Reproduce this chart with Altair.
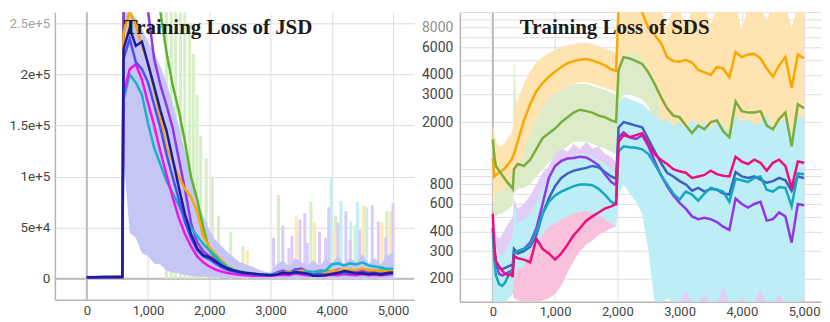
import json
import altair as alt
import pandas as pd

FONT = "Roboto"

# ============================ LEFT PANEL: Training Loss of JSD (values in thousands)
L_TITLE = "Training Loss of JSD"
L_STEPS = [0, 100, 200, 300, 400, 500, 580,
           600, 700, 800, 900, 1000, 1100, 1200, 1300, 1400, 1500,
           1600, 1700, 1800, 1900, 2000, 2100, 2200, 2300, 2400, 2500,
           2600, 2700, 2800, 2900, 3000, 3100, 3200, 3300, 3400, 3500,
           3600, 3700, 3800, 3900, 4000, 4100, 4200, 4300, 4400, 4500,
           4600, 4700, 4800, 4900, 5000]
L_GREEN = [1.5, 1.5, 1.5, 1.6, 1.6, 1.6, 1.7,
           262, 265, 265, 265, 265, 265, 262, 222, 190, 165,
           135, 100, 78, 50, 28, 19, 13, 9.5, 7.5, 6,
           5, 4.5, 4, 3.5, 3.5, 4.5, 6.5, 6, 7, 8,
           6.5, 5.5, 6, 7, 7.5, 8, 7, 8.5, 8, 9,
           8.5, 7.5, 8, 7, 7.5]
L_PURPLE = [1.5, 1.5, 1.5, 1.6, 1.6, 1.6, 1.7,
            262, 265, 265, 265, 262, 215, 190, 170, 148, 118,
            88, 55, 36, 27, 22, 18, 14, 10, 8, 6,
            5, 4.5, 4, 4, 3.5, 6, 8, 6, 9, 10,
            7, 6, 8, 7, 6, 9, 8, 7, 6, 8,
            7, 6, 7, 6, 7]
L_ORANGE = [1.5, 1.5, 1.5, 1.6, 1.6, 1.6, 1.7,
            240, 262, 248, 228, 212, 185, 158, 128, 115, 100,
            88, 80, 66, 42, 31, 24, 18, 12, 9, 7,
            6, 5, 4.5, 4, 3.5, 5, 6, 7, 6, 8,
            7, 6, 7.5, 6, 7, 8, 9, 8, 8.5, 10,
            8, 8.5, 7, 8, 8]
L_CYAN = [1.4, 1.4, 1.4, 1.5, 1.5, 1.5, 1.6,
          175, 200, 192, 180, 152, 128, 112, 96, 84, 72,
          60, 50, 42, 34, 28, 22, 16, 11, 8.5, 7,
          6, 5, 4.5, 4, 4, 5, 6, 5.5, 7, 6,
          7, 6.5, 7, 8, 14, 15, 13, 15, 14, 16,
          13, 12, 11, 9.5, 10]
L_MAGENTA = [1.3, 1.3, 1.4, 1.4, 1.4, 1.5, 1.5,
             180, 205, 210, 195, 172, 150, 125, 102, 80, 60,
             44, 32, 22, 16, 12, 9, 7, 5.5, 4.5, 4,
             3.5, 3, 3, 3, 3, 3.5, 4, 3.5, 5, 4,
             3.5, 3, 4, 3.5, 4, 3.5, 4.5, 4, 3.5, 4.5,
             3.5, 4, 3.5, 4, 4.5]
L_BLUE = [1.4, 1.4, 1.5, 1.5, 1.5, 1.6, 1.6,
          215, 235, 212, 205, 192, 170, 148, 122, 100, 78,
          56, 40, 28, 22, 19, 15, 11, 8.5, 7, 5.5,
          5, 4.5, 4, 3.5, 3.5, 4.5, 6, 5.5, 5, 6,
          4.5, 4, 4.5, 4, 5, 6, 5.5, 5, 6, 4.5,
          5.5, 4.5, 5, 4.5, 5.5]
L_NAVY = [1.5, 1.5, 1.6, 1.6, 1.6, 1.7, 1.8,
          225, 245, 228, 232, 210, 188, 165, 145, 118, 90,
          64, 44, 30, 23, 21, 17, 13, 10, 8, 6.5,
          5.5, 5, 4.5, 4, 3.5, 4, 5.5, 5, 6.5, 5.5,
          5, 3, 3, 3.5, 4.5, 5.5, 7.5, 6.5, 5, 5.5,
          4.5, 5, 4, 5.5, 6]
# raw (unsmoothed) envelope, shown as a light band
L_RAW_LO = [0.3, 0.3, 0.3, 0.3, 0.3, 0.3, 0.3,
            120, 45, 40, 25, 22, 15, 14, 8, 6, 5,
            4, 3, 2, 2, 1.5, 1, 1, 0.8, 0.8, 0.6,
            0.5, 0.5, 0.5, 0.5, 0.5, 0.5, 0.5, 0.5, 0.5, 0.5,
            0.5, 0.5, 0.5, 0.5, 0.5, 0.5, 0.5, 0.5, 0.5, 0.5,
            0.5, 0.5, 0.5, 0.5, 0.5]
L_RAW_HI = [3, 3, 3, 3, 3, 3, 3,
            262, 262, 255, 245, 232, 222, 208, 192, 172, 150,
            125, 102, 75, 62, 48, 38, 32, 26, 21, 16,
            14, 12, 9, 7, 6, 14, 18, 12, 20, 16,
            13, 18, 12, 20, 15, 22, 14, 20, 16, 24,
            15, 20, 14, 22, 26]
# raw spikes
L_SPK_GREEN_STEP = [1300, 1380, 1450, 1530, 1600, 1680, 1740, 1800, 1860, 1950,
                    2050, 2150, 2350, 2550, 3130, 3660, 4060, 4380, 4900]
L_SPK_GREEN_TOP = [265, 265, 265, 265, 265, 250, 220, 180, 140, 118,
                   100, 62, 46, 32, 82, 75, 62, 52, 66]
L_SPK_YELLOW_STEP = [2620, 3420, 3720, 4050, 4520, 4820, 4960]
L_SPK_YELLOW_TOP = [28, 62, 55, 48, 72, 55, 66]
L_SPK_CYAN_STEP = [3990, 4150, 4310, 4420, 4570]
L_SPK_CYAN_TOP = [98, 76, 56, 75, 70]
L_SPK_LAV_STEP = [3050, 3200, 3300, 3350, 3480, 3560, 3600, 3800, 3900, 3950,
                  4100, 4230, 4300, 4460, 4660, 4760, 4880, 5000]
L_SPK_LAV_TOP = [40, 52, 30, 42, 58, 64, 35, 46, 40, 70,
                 55, 66, 38, 48, 72, 56, 40, 74]
L_XTICKS = [0, 1000, 2000, 3000, 4000, 5000]
L_YTICKS = [0, 50, 100, 150, 200, 250]
L_YLABELS = ["0", "5e+4", "1e+5", "1.5e+5", "2e+5", "2.5e+5"]

# ============================ RIGHT PANEL: Training Loss of SDS
R_TITLE = "Training Loss of SDS"
R_STEPS = [0, 25, 50, 100, 150, 200, 250, 300, 320, 340,
           400, 500, 600, 700, 800, 900, 1000, 1100, 1200, 1300,
           1400, 1500, 1600, 1700, 1800, 1900, 1980, 2020, 2100, 2200,
           2300, 2400, 2500, 2600, 2700, 2800, 2900, 3000, 3100, 3200,
           3300, 3400, 3500, 3600, 3700, 3800, 3900, 4000, 4100, 4200,
           4300, 4400, 4500, 4600, 4700, 4800, 4900, 5000]
R_ORANGE = [1180, 900, 920, 950, 980, 1020, 1080, 1150, 1200, 1250,
            1500, 2050, 2600, 3150, 3550, 3900, 4200, 4500, 4750, 4900,
            5000, 5050, 4950, 4800, 4600, 4350, 4250, 11000, 11000, 11000,
            10800, 10000, 8000, 7200, 6400, 5200, 4900, 4850, 5000, 4800,
            4300, 4150, 4000, 4500, 4400, 3850, 5600, 5200, 5400, 5450,
            5100, 4400, 3900, 4600, 5200, 3300, 5400, 5100]
R_GREEN = [1550, 1200, 1050, 980, 920, 860, 810, 770, 750, 1000,
           1080, 1050, 1150, 1350, 1580, 1700, 1820, 2000, 2150, 2300,
           2400, 2350, 2300, 2200, 2150, 2050, 2000, 4300, 5200, 5100,
           4900, 4700, 4150, 3500, 2900, 2450, 2200, 2150, 1900, 1700,
           1900, 1800, 2000, 2050, 1750, 1600, 2700, 2350, 2300, 2300,
           2350, 1900, 1800, 2100, 2300, 1400, 2600, 2450]
R_PURPLE = [420, 300, 250, 215, 210, 215, 220, 225, 230, 290,
            300, 310, 340, 420, 600, 880, 1050, 1130, 1170, 1180,
            1200, 1190, 1130, 1060, 930, 830, 790, 1600, 1720, 1600,
            1560, 1650, 1400, 1130, 920, 780, 680, 610, 560, 500,
            480, 490, 480, 460, 430, 410, 650, 600, 570, 600,
            620, 470, 480, 530, 500, 340, 600, 590]
R_BLUE = [420, 300, 250, 235, 230, 235, 240, 245, 240, 310,
          290, 300, 320, 380, 520, 650, 780, 880, 940, 980,
          1000, 1020, 1050, 1030, 960, 900, 870, 1850, 2000, 1950,
          1900, 1850, 1550, 1300, 1100, 950, 900, 840, 800, 730,
          760, 720, 750, 740, 700, 690, 960, 900, 880, 900,
          860, 820, 840, 880, 850, 730, 900, 880]
R_CYAN = [380, 260, 210, 185, 180, 190, 210, 225, 230, 290,
          300, 310, 330, 400, 520, 620, 680, 720, 750, 780,
          800, 800, 790, 750, 690, 620, 600, 1300, 1400, 1380,
          1370, 1340, 1250, 1080, 920, 800, 700, 640, 720, 690,
          630, 700, 760, 740, 720, 620, 870, 850, 830, 880,
          900, 740, 720, 770, 760, 580, 940, 930]
R_PINK = [520, 320, 260, 240, 225, 215, 210, 215, 205, 280,
          270, 265, 255, 360, 310, 290, 265, 290, 330, 380,
          420, 470, 500, 530, 560, 580, 600, 1500, 1650, 1600,
          1650, 1700, 1450, 1250, 1150, 1080, 1000, 970, 950, 880,
          900, 920, 980, 930, 910, 900, 1200, 1120, 1080, 1150,
          1100, 980, 1100, 1150, 1050, 760, 1120, 1100]
# raw envelopes
R_GREEN_LO = [550, 520, 500, 520, 520, 540, 560, 580, 600, 700,
              750, 760, 800, 900, 1000, 1100, 1200, 1300, 1400, 1500,
              1500, 1500, 1450, 1400, 1350, 1300, 1250, 2500, 3000, 3000,
              2900, 2800, 2500, 2000, 1800, 1500, 1400, 1300, 1200, 1100,
              1200, 1100, 1300, 1200, 1100, 1100, 1400, 1300, 1300, 1200,
              1300, 1100, 1100, 1200, 1300, 1000, 1400, 1300]
R_GREEN_HI = [1900, 1700, 1500, 1300, 1200, 1150, 1200, 1300, 1400, 5300,
              1800, 2000, 2300, 2600, 2800, 3000, 3200, 3300, 3400, 3500,
              3500, 3500, 3400, 3300, 3200, 3100, 3000, 6500, 7500, 7000,
              7000, 6800, 6000, 5000, 4000, 3500, 3000, 3000, 2800, 2600,
              2800, 2700, 2900, 3000, 2700, 2500, 3500, 3200, 3100, 3100,
              3200, 2800, 2700, 3000, 3100, 2400, 3400, 3300]
R_ORANGE_LO = [600, 650, 700, 720, 740, 760, 800, 850, 900, 950,
               1000, 1300, 1700, 2100, 2500, 2800, 3000, 3200, 3400, 3500,
               3600, 3600, 3500, 3400, 3300, 3200, 3100, 3500, 5000, 5500,
               5500, 5000, 4200, 3500, 2200, 1600, 1500, 1400, 1500, 1300,
               1400, 1300, 1500, 1400, 1300, 1200, 1700, 1500, 1600, 1500,
               1500, 1300, 1200, 1400, 1500, 1100, 1600, 1500]
R_ORANGE_HI = [2000, 1700, 1500, 1400, 1400, 1500, 1600, 1700, 1800, 2400,
               2800, 3500, 4200, 4800, 5200, 5500, 5800, 6000, 6200, 6300,
               6400, 6400, 6300, 6100, 5900, 5700, 5500, 11000, 11000, 11000,
               11000, 11000, 11000, 11000, 11000, 8000, 11000, 11000, 7500, 11000,
               11000, 11000, 8500, 11000, 11000, 11000, 11000, 7800, 11000, 11000,
               11000, 9000, 11000, 11000, 11000, 8000, 11000, 11000]
R_LAV_LO = [160, 150, 145, 145, 150, 150, 160, 170, 175, 200,
            200, 210, 230, 280, 350, 420, 500, 550, 600, 600,
            620, 620, 600, 580, 550, 520, 500, 900, 1000, 950,
            900, 850, 700, 300, 140, 200, 140, 140, 140, 140,
            140, 140, 140, 140, 140, 140, 140, 140, 140, 140,
            140, 140, 140, 140, 140, 140, 140, 140]
R_LAV_HI = [450, 400, 380, 360, 380, 420, 450, 480, 500, 650,
            560, 600, 680, 800, 950, 1050, 1250, 1350, 1300, 1450,
            1350, 1500, 1350, 1400, 1250, 1200, 1100, 2400, 2600, 2500,
            2400, 2300, 2000, 1600, 1000, 900, 800, 800, 750, 750,
            700, 750, 800, 700, 750, 800, 750, 700, 800, 750,
            700, 750, 800, 700, 750, 700, 800, 750]
R_PINK_LO = [200, 190, 180, 170, 165, 160, 160, 160, 160, 150,
             145, 142, 140, 140, 145, 150, 160, 180, 220, 260,
             300, 330, 350, 380, 400, 420, 430, 700, 800, 800,
             800, 750, 700, 600, 500, 450, 420, 400, 400, 380,
             380, 380, 380, 380, 380, 380, 380, 380, 380, 380,
             380, 380, 380, 380, 380, 380, 380, 380]
R_PINK_HI = [550, 400, 330, 300, 290, 280, 280, 290, 300, 350,
             350, 380, 430, 500, 480, 460, 450, 520, 580, 620,
             680, 720, 760, 800, 820, 850, 850, 2000, 2100, 2000,
             2000, 1900, 1700, 1400, 1300, 1200, 1100, 1100, 1050, 1000,
             1050, 1100, 1000, 1050, 1100, 1000, 1200, 1100, 1050, 1100,
             1100, 1000, 1050, 1100, 1000, 1000, 1100, 1100]
R_CYAN_LO = [140, 140, 140, 140, 140, 142, 148, 155, 165, 200,
             230, 240, 300, 330, 380, 430, 450, 480, 500, 520,
             540, 540, 530, 510, 480, 450, 430, 700, 800, 700,
             620, 520, 300, 140, 140, 150, 140, 140, 170, 140,
             140, 160, 140, 140, 180, 140, 140, 150, 140, 140,
             170, 140, 140, 160, 140, 140, 140, 150]
R_CYAN_HI = [420, 380, 320, 290, 280, 300, 330, 360, 380, 600,
             450, 480, 520, 620, 760, 880, 1000, 1100, 1150, 1200,
             1250, 1250, 1200, 1150, 1100, 1000, 950, 2600, 2900, 2800,
             2700, 2600, 2400, 2200, 2000, 2100, 1900, 2000, 1800, 2100,
             1900, 2000, 1800, 2100, 1900, 1700, 2200, 2000, 2100, 1900,
             2000, 2200, 1800, 2000, 2100, 1700, 2200, 2100]
R_XTICKS = [0, 1000, 2000, 3000, 4000, 5000]
R_GRID = [200, 300, 400, 500, 600, 700, 800, 900, 1000,
          2000, 3000, 4000, 5000, 6000, 7000, 8000, 9000]
R_TOPGRID = [10000]
R_LABELED = [200, 300, 400, 600, 800, 2000, 3000, 4000, 6000, 8000]

# ============================ styles
LINE_COLORS_L = {"green": "#5cb52a", "purple": "#9236e8", "orange": "#f9a800",
                 "cyan": "#14b4c8", "magenta": "#f014e6", "blue": "#4b52ec",
                 "navy": "#1c1c9c"}
LINE_COLORS_R = {"orange": "#f9a800", "green": "#79ad3c", "purple": "#9334e6",
                 "blue": "#3c62c0", "cyan": "#15a6c2", "pink": "#ec0f7c"}
BAND_COLORS = {"lav_l": "#c6c6f6", "green": "#dcecc9", "orange": "#ffe3b0",
               "lav": "#e1cdf5", "pink": "#f9c1dc", "cyan": "#bdeef5"}
SPIKE_COLORS = {"green": "#d6efc6", "yellow": "#ffe7b0", "cyan": "#c0eff6",
                "lavender": "#dccbf6"}
GRID_COLOR = "#dedede"

L_XS = alt.Scale(domain=[-521, 5342], nice=False, zero=False)
L_YS = alt.Scale(domain=[-20.5, 260.7], nice=False, zero=False)
R_XS = alt.Scale(domain=[-529, 5272], nice=False, zero=False)
R_YS = alt.Scale(type="log", domain=[142.8, 10035], nice=False)

AX = dict(labelFont=FONT, grid=True, gridColor=GRID_COLOR,
          gridWidth=1, domainColor="#b5b5b5", domainWidth=1.5, ticks=False,
          tickSize=0, labelOverlap=False)

L_XAXIS = alt.Axis(values=L_XTICKS, format=",d", labelPadding=5, labelFontSize=13,
                   labelColor="#444444", **AX)
L_YAXIS = alt.Axis(values=L_YTICKS, labelPadding=5, minExtent=45, maxExtent=45,
                   labelFontSize=13.5,
                   labelExpr=f"{json.dumps(L_YLABELS)}[indexof({json.dumps(L_YTICKS)}, datum.value)]",
                   labelColor=alt.ExprRef(expr="datum.value == 250 ? '#a3a3a3' : '#444444'"),
                   **AX)
R_XAXIS = alt.Axis(values=R_XTICKS, format=",d", labelPadding=4, labelFontSize=13,
                   labelColor="#444444", **AX)
R_YAXIS = alt.Axis(values=R_GRID, labelPadding=7, minExtent=40, maxExtent=40,
                   labelFontSize=14,
                   labelExpr=f"indexof({json.dumps(R_LABELED)}, datum.value) >= 0 ? datum.value + '' : ''",
                   labelColor=alt.ExprRef(expr="datum.value == 8000 ? '#8f8f8f' : '#444444'"),
                   **AX)


def xy_df(steps, values):
    return pd.DataFrame({"step": steps, "value": values})


def band_df(steps, lo, hi):
    return pd.DataFrame({"step": steps, "lo": lo, "hi": hi})


def LX(field):
    return alt.X(field, scale=L_XS, axis=L_XAXIS, title=None)


def LY(field):
    return alt.Y(field, scale=L_YS, axis=L_YAXIS, title=None)


def RX(field):
    return alt.X(field, scale=R_XS, axis=R_XAXIS, title=None)


def RY(field):
    return alt.Y(field, scale=R_YS, axis=R_YAXIS, title=None)


# ---------------- left layers
l_layers = []
l_layers.append(alt.Chart(pd.DataFrame({"step": [0], "value": [0]})).mark_rule(
    color="#bcbcbc", strokeWidth=2).encode(x=LX("step:Q")))
l_layers.append(alt.Chart(pd.DataFrame({"step": [0], "value": [0]})).mark_rule(
    color="#bcbcbc", strokeWidth=2).encode(y=LY("value:Q")))
for kind, st, tp in [("green", L_SPK_GREEN_STEP, L_SPK_GREEN_TOP),
                     ("yellow", L_SPK_YELLOW_STEP, L_SPK_YELLOW_TOP),
                     ("cyan", L_SPK_CYAN_STEP, L_SPK_CYAN_TOP),
                     ("lavender", L_SPK_LAV_STEP, L_SPK_LAV_TOP)]:
    d = pd.DataFrame({"step": st, "top": tp, "base": [0] * len(st)})
    l_layers.append(alt.Chart(d).mark_rule(
        color=SPIKE_COLORS[kind], strokeWidth=3, clip=True).encode(
        x=LX("step:Q"), y=LY("base:Q"), y2="top:Q"))
l_layers.append(alt.Chart(band_df(L_STEPS, L_RAW_LO, L_RAW_HI)).mark_area(
    color=BAND_COLORS["lav_l"], clip=True).encode(
    x=LX("step:Q"), y=LY("lo:Q"), y2="hi:Q"))
for name, vals in [("green", L_GREEN), ("purple", L_PURPLE), ("orange", L_ORANGE),
                   ("cyan", L_CYAN), ("magenta", L_MAGENTA), ("blue", L_BLUE),
                   ("navy", L_NAVY)]:
    l_layers.append(alt.Chart(xy_df(L_STEPS, vals)).mark_line(
        color=LINE_COLORS_L[name], strokeWidth=2.5, clip=True).encode(
        x=LX("step:Q"), y=LY("value:Q")))
l_layers.append(alt.Chart(pd.DataFrame({"title": [L_TITLE]})).mark_text(
    align="left", baseline="alphabetic", font="Liberation Serif", fontSize=21,
    fontWeight="bold", color="#1c1c1c").encode(
    x=alt.value(69), y=alt.value(22), text="title:N"))
left = alt.layer(*l_layers).properties(width=360, height=288)

# ---------------- right layers
r_layers = []
r_layers.append(alt.Chart(pd.DataFrame({"step": [0], "value": [1000]})).mark_rule(
    color="#bcbcbc", strokeWidth=2).encode(x=RX("step:Q")))
r_layers.append(alt.Chart(pd.DataFrame({"value": R_TOPGRID})).mark_rule(
    color=GRID_COLOR, strokeWidth=1).encode(y=RY("value:Q")))
for key, lo, hi in [("green", R_GREEN_LO, R_GREEN_HI),
                    ("orange", R_ORANGE_LO, R_ORANGE_HI),
                    ("lav", R_LAV_LO, R_LAV_HI),
                    ("pink", R_PINK_LO, R_PINK_HI),
                    ("cyan", R_CYAN_LO, R_CYAN_HI)]:
    r_layers.append(alt.Chart(band_df(R_STEPS, lo, hi)).mark_area(
        color=BAND_COLORS[key], clip=True).encode(
        x=RX("step:Q"), y=RY("lo:Q"), y2="hi:Q"))
for name, vals in [("orange", R_ORANGE), ("green", R_GREEN), ("purple", R_PURPLE),
                   ("blue", R_BLUE), ("cyan", R_CYAN), ("pink", R_PINK)]:
    r_layers.append(alt.Chart(xy_df(R_STEPS, vals)).mark_line(
        color=LINE_COLORS_R[name], strokeWidth=2.5, clip=True).encode(
        x=RX("step:Q"), y=RY("value:Q")))
r_layers.append(alt.Chart(pd.DataFrame({"title": [R_TITLE]})).mark_text(
    align="left", baseline="alphabetic", font="Liberation Serif", fontSize=21,
    fontWeight="bold", color="#1c1c1c").encode(
    x=alt.value(60), y=alt.value(22), text="title:N"))
right = alt.layer(*r_layers).properties(width=362, height=290)

chart = alt.hconcat(left, right, spacing=5).properties(
    padding={"left": 0, "top": 3, "right": 0, "bottom": 0}
).configure_view(strokeWidth=0)

chart.save("out.html", embed_options={"renderer": "svg", "actions": False})
